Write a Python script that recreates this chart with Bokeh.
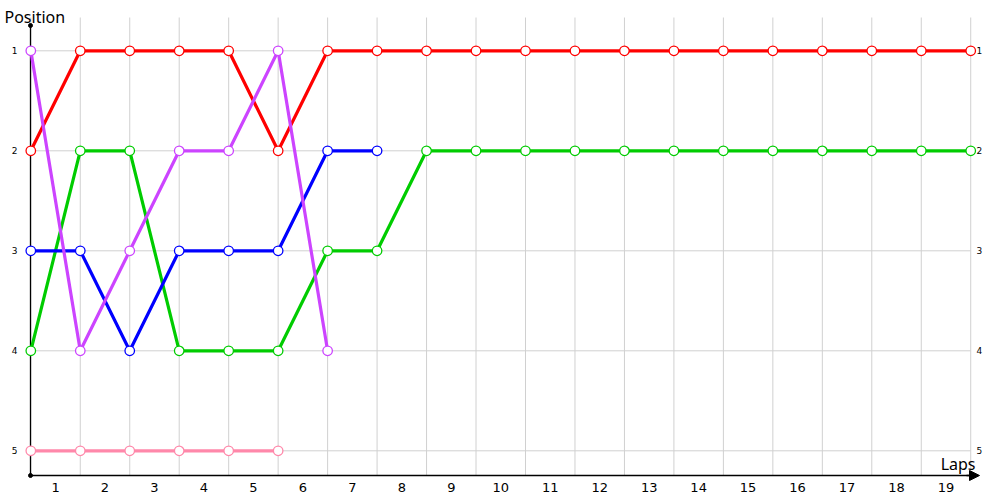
from bokeh.plotting import figure
from bokeh.models import Range1d, Arrow, NormalHead
from bokeh.core.properties import value
from bokeh.embed import file_html
from bokeh.resources import INLINE

# ---- data ----
laps = list(range(20))
red_pos = [2, 1, 1, 1, 1, 2, 1, 1, 1, 1, 1, 1, 1, 1, 1, 1, 1, 1, 1, 1]
green_pos = [4, 2, 2, 4, 4, 4, 3, 3, 2, 2, 2, 2, 2, 2, 2, 2, 2, 2, 2, 2]
blue_pos = [3, 3, 4, 3, 3, 3, 2, 2]
purple_pos = [1, 4, 3, 2, 2, 1, 4]
pink_pos = [5, 5, 5, 5, 5, 5]
lap_labels = [str(i) for i in range(1, 20)]
positions = [1, 2, 3, 4, 5]

series = [
    (red_pos, "#ff0000"),
    (green_pos, "#00cc00"),
    (blue_pos, "#0000ff"),
    (purple_pos, "#cc44ff"),
    (pink_pos, "#ff88aa"),
]

# ---- layout ----
W, H = 1000, 500
X0, XS = 30.3, 49.47       # canvas px of lap 0, px per lap
Y1, YS = 50.3, 100.0       # canvas px of position 1, px per position

def xd(px):
    return (px - X0) / XS

def yd(px):
    return 1 + (px - Y1) / YS

p = figure(width=W, height=H, output_backend="svg", toolbar_location=None,
           x_range=Range1d(xd(0), xd(W)), y_range=Range1d(yd(H), yd(0)),
           min_border=0, x_axis_type=None, y_axis_type=None)
p.outline_line_color = None
p.xgrid.visible = False
p.ygrid.visible = False

grid_c = "#d0d0d0"
axis_y = yd(475)
top_y = yd(17)
last = laps[-1]

# grid
p.segment(x0=laps, x1=laps, y0=[top_y] * len(laps), y1=[axis_y] * len(laps),
          line_color=grid_c, line_width=1)
p.segment(x0=[0] * len(positions), x1=[last] * len(positions), y0=positions, y1=positions,
          line_color=grid_c, line_width=1)

# axes
p.segment(x0=[xd(30)], x1=[xd(30)], y0=[yd(25)], y1=[axis_y], line_color="black", line_width=1.3)
p.segment(x0=[xd(30)], x1=[xd(972)], y0=[axis_y], y1=[axis_y], line_color="black", line_width=1.3)
p.scatter(x=[xd(30), xd(30)], y=[yd(25), axis_y], size=4, color="black")
p.add_layout(Arrow(end=NormalHead(size=10, fill_color="black", line_color="black"),
                   x_start=xd(966), y_start=axis_y, x_end=xd(979), y_end=axis_y,
                   line_color="black", line_width=1.3))

# series
for pos, col in series:
    xs = laps[:len(pos)]
    p.line(xs, pos, line_color=col, line_width=3.2)
    p.scatter(xs, pos, size=9.5, fill_color="white", line_color=col, line_width=1.3)

# tick labels
font = value("DejaVu Sans")
p.text(x=[i + 0.5 for i in range(len(lap_labels))], y=[yd(487)] * len(lap_labels),
       text=lap_labels, text_font=font, text_font_size="13px", text_align="center",
       text_baseline="middle", text_color="black")
p.text(x=[xd(17)] * len(positions), y=positions, text=[str(v) for v in positions],
       text_font=font, text_font_size="9px", text_align="right", text_baseline="middle",
       text_color="black")
p.text(x=[xd(976)] * len(positions), y=positions, text=[str(v) for v in positions],
       text_font=font, text_font_size="9px", text_align="left", text_baseline="middle",
       text_color="black")

# axis titles
p.text(x=[xd(4)], y=[yd(16)], text=["Position"], text_font=value("Noto Sans"),
       text_font_size="16px", text_align="left", text_baseline="middle", text_color="black")
p.text(x=[xd(975)], y=[yd(463)], text=["Laps"], text_font=value("Noto Sans"),
       text_font_size="16px", text_align="right", text_baseline="middle", text_color="black")

open("out.html", "w").write(file_html(p, INLINE))
